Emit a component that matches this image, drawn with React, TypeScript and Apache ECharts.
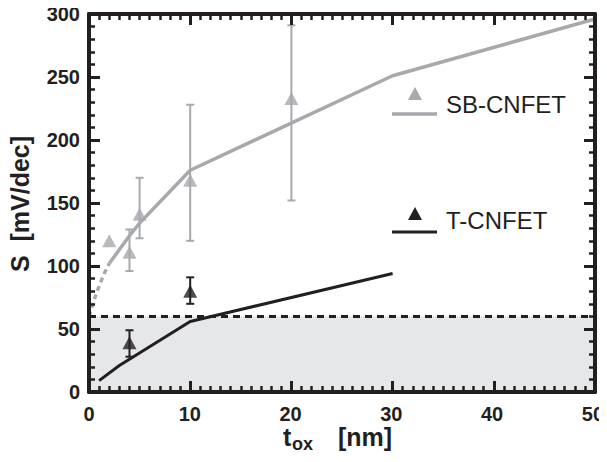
import React, { useEffect, useRef } from "react";
import * as echarts from "echarts";

const GRAY = "#a7a9ac";
const BLACK = "#231f20";
const SHADE = "#e6e7e8";
const FAMILY = "Liberation Sans";

// SB-CNFET model curve (dashed extrapolation + solid)
const sbDashX = [0, 0.5, 1, 1.5, 2];
const sbDashY = [60, 73, 84, 94, 102];
const sbModelX = [2, 4, 5, 10, 30, 50];
const sbModelY = [102, 124, 134, 176, 251, 296];
// T-CNFET model curve
const tModelX = [1, 3, 10, 30];
const tModelY = [9, 21, 56, 94];
// C-CNFET limit
const cLimit = 60;
const xRange = [0, 50];
// SB-CNFET measurements
const sbMeasX = [2, 4, 5, 10, 20];
const sbMeasY = [120, 111, 141, 168, 233];
const sbErrLow = [null, 96, 122, 120, 152];
const sbErrHigh = [null, 129, 170, 228, 291];
// T-CNFET measurements
const tMeasX = [4, 10];
const tMeasY = [39, 80];
const tErrLow = [28, 70];
const tErrHigh = [49, 91];

// axis ranges / tick steps and titles
const xMax = 50;
const xStep = 10;
const yMax = 300;
const yStep = 50;
const yTitle = "S  [mV/dec]";
const xTitleMain = "t";
const xTitleSub = "ox";
const xTitleUnit = "[nm]";
const legendNames = ["SB-CNFET", "T-CNFET", "C-CNFET"];

const GRID: any = { left: 89, top: 14, width: 506, height: 378 };

function zip(a: number[], b: (number | null)[]) {
  return a.map((v, i) => [v, b[i]]);
}

function errData(xs: number[], lo: (number | null)[], hi: (number | null)[]) {
  const out: number[][] = [];
  xs.forEach((x, i) => {
    if (lo[i] != null && hi[i] != null) out.push([x, lo[i] as number, hi[i] as number]);
  });
  return out;
}

function errSeries(data: number[][], color: string, width: number) {
  return {
    type: "custom",
    z: 3,
    data,
    encode: { x: 0, y: [1, 2] },
    renderItem: (params: any, api: any) => {
      const x = api.value(0);
      const lo = api.coord([x, api.value(1)]);
      const hi = api.coord([x, api.value(2)]);
      const w = 4;
      const st = { stroke: color, lineWidth: width };
      return {
        type: "group",
        children: [
          { type: "line", shape: { x1: lo[0], y1: lo[1], x2: hi[0], y2: hi[1] }, style: st },
          { type: "line", shape: { x1: lo[0] - w, y1: lo[1], x2: lo[0] + w, y2: lo[1] }, style: st },
          { type: "line", shape: { x1: hi[0] - w, y1: hi[1], x2: hi[0] + w, y2: hi[1] }, style: st },
        ],
      };
    },
  };
}

// frame + ticks only (no labels)
function frameAxis(pos: string, max: number, interval: number, split: number) {
  return {
    type: "value",
    position: pos,
    min: 0,
    max,
    interval,
    axisLine: { show: true, onZero: false, lineStyle: { color: BLACK, width: 4 } },
    axisTick: { show: true, inside: true, length: 11, lineStyle: { color: BLACK, width: 3 } },
    minorTick: { show: true, splitNumber: split, length: 6, lineStyle: { color: BLACK, width: 2.5 } },
    splitLine: { show: false },
    minorSplitLine: { show: false },
    axisLabel: { show: false },
  };
}

// labels only (no line / ticks)
function labelAxis(pos: string, max: number, interval: number, margin: number) {
  return {
    type: "value",
    position: pos,
    min: 0,
    max,
    interval,
    axisLine: { show: false, onZero: false },
    axisTick: { show: false },
    splitLine: { show: false },
    axisLabel: { show: true, color: BLACK, fontFamily: FAMILY, fontWeight: "bold", fontSize: 20, margin },
  };
}

function hiddenAxis(max: number) {
  return { type: "value", min: 0, max, show: false, splitLine: { show: false } };
}

function freshChart(el: HTMLDivElement) {
  const old = echarts.getInstanceByDom(el);
  if (old) old.dispose();
  return echarts.init(el, null, { renderer: "svg" });
}

const layer: React.CSSProperties = { position: "absolute", left: 0, top: 0, width: 607, height: 462 };

export default function App() {
  const refData = useRef<HTMLDivElement>(null);
  const refLabels = useRef<HTMLDivElement>(null);
  const refFrame = useRef<HTMLDivElement>(null);
  useEffect(() => {
    if (!refData.current || !refFrame.current || !refLabels.current) return;
    const dataChart = freshChart(refData.current);
    const labelChart = freshChart(refLabels.current);
    const frameChart = freshChart(refFrame.current);
    const legendFont = `24px ${FAMILY}`;

    try {
      dataChart.setOption({
        animation: false,
        grid: GRID,
        xAxis: hiddenAxis(xMax),
        yAxis: hiddenAxis(yMax),
        series: [
          {
            name: legendNames[2],
            type: "line",
            z: 1,
            symbol: "none",
            data: xRange.map((x) => [x, cLimit]),
            lineStyle: { color: BLACK, width: 3, type: [7, 5] },
            markArea: {
              silent: true,
              itemStyle: { color: SHADE },
              data: [[{ yAxis: 0 }, { yAxis: cLimit }]],
            },
          },
          {
            name: "SB-CNFET model ext",
            type: "line",
            z: 2,
            symbol: "none",
            data: zip(sbDashX, sbDashY),
            lineStyle: { color: GRAY, width: 3.5, type: [5, 4] },
          },
          {
            name: "SB-CNFET model",
            type: "line",
            z: 2,
            symbol: "none",
            data: zip(sbModelX, sbModelY),
            lineStyle: { color: GRAY, width: 3.5 },
          },
          {
            name: "T-CNFET model",
            type: "line",
            z: 2,
            symbol: "none",
            data: zip(tModelX, tModelY),
            lineStyle: { color: BLACK, width: 3 },
          },
          errSeries(errData(sbMeasX, sbErrLow, sbErrHigh), GRAY, 2),
          errSeries(errData(tMeasX, tErrLow, tErrHigh), BLACK, 2),
          {
            name: legendNames[0],
            type: "scatter",
            z: 4,
            symbol: "triangle",
            symbolSize: [14, 13],
            itemStyle: { color: GRAY },
            data: zip(sbMeasX, sbMeasY),
          },
          {
            name: legendNames[1],
            type: "scatter",
            z: 4,
            symbol: "triangle",
            symbolSize: [14, 13],
            itemStyle: { color: BLACK },
            data: zip(tMeasX, tMeasY),
          },
        ],
        graphic: [
          { type: "polygon", shape: { points: [[415, 87], [408, 100], [422, 100]] }, style: { fill: GRAY } },
          { type: "line", shape: { x1: 392, y1: 114, x2: 437, y2: 114 }, style: { stroke: GRAY, lineWidth: 3.5 } },
          { type: "text", x: 446, y: 104, style: { text: legendNames[0], fill: BLACK, font: legendFont, verticalAlign: "middle" } },
          { type: "polygon", shape: { points: [[415, 207], [408, 220], [422, 220]] }, style: { fill: BLACK } },
          { type: "line", shape: { x1: 392, y1: 232, x2: 437, y2: 232 }, style: { stroke: BLACK, lineWidth: 3 } },
          { type: "text", x: 446, y: 220, style: { text: legendNames[1], fill: BLACK, font: legendFont, verticalAlign: "middle" } },
          {
            type: "line",
            shape: { x1: 392, y1: 348, x2: 429, y2: 348 },
            style: { stroke: BLACK, lineWidth: 3, lineDash: [7, 5] },
          },
          { type: "text", x: 443, y: 349, style: { text: legendNames[2], fill: BLACK, font: legendFont, verticalAlign: "middle" } },
          // axis titles
          {
            type: "text",
            x: 20,
            y: 204,
            rotation: Math.PI / 2,
            style: { text: yTitle, fill: BLACK, font: `bold 25px ${FAMILY}`, align: "center", verticalAlign: "middle" },
          },
          {
            type: "text",
            x: 283,
            y: 437,
            style: { text: xTitleMain, fill: BLACK, font: `bold 25px ${FAMILY}`, align: "left", verticalAlign: "middle" },
          },
          {
            type: "text",
            x: 292,
            y: 444,
            style: { text: xTitleSub, fill: BLACK, font: `bold 18px ${FAMILY}`, align: "left", verticalAlign: "middle" },
          },
          {
            type: "text",
            x: 338,
            y: 437,
            style: { text: xTitleUnit, fill: BLACK, font: `bold 25px ${FAMILY}`, align: "left", verticalAlign: "middle" },
          },
        ],
      });
    } catch (e) {
      // ignore
    }

    try {
      labelChart.setOption({
        animation: false,
        grid: GRID,
        xAxis: labelAxis("bottom", xMax, xStep, 12),
        yAxis: labelAxis("left", yMax, yStep, 9),
        series: [],
      });
    } catch (e) {
      // ignore
    }

    try {
      frameChart.setOption({
        animation: false,
        grid: GRID,
        xAxis: [frameAxis("bottom", xMax, xStep, 10), frameAxis("top", xMax, xStep, 10)],
        yAxis: [frameAxis("left", yMax, yStep, 5), frameAxis("right", yMax, yStep, 5)],
        series: [],
      });
    } catch (e) {
      // ignore
    }

    return () => {
      dataChart.dispose();
      labelChart.dispose();
      frameChart.dispose();
    };
  }, []);
  return (
    <div style={{ position: "relative", width: 607, height: 462, margin: -8 }}>
      <div ref={refData} style={layer} />
      <div ref={refLabels} style={{ ...layer, pointerEvents: "none" }} />
      <div ref={refFrame} style={{ ...layer, pointerEvents: "none" }} />
    </div>
  );
}
